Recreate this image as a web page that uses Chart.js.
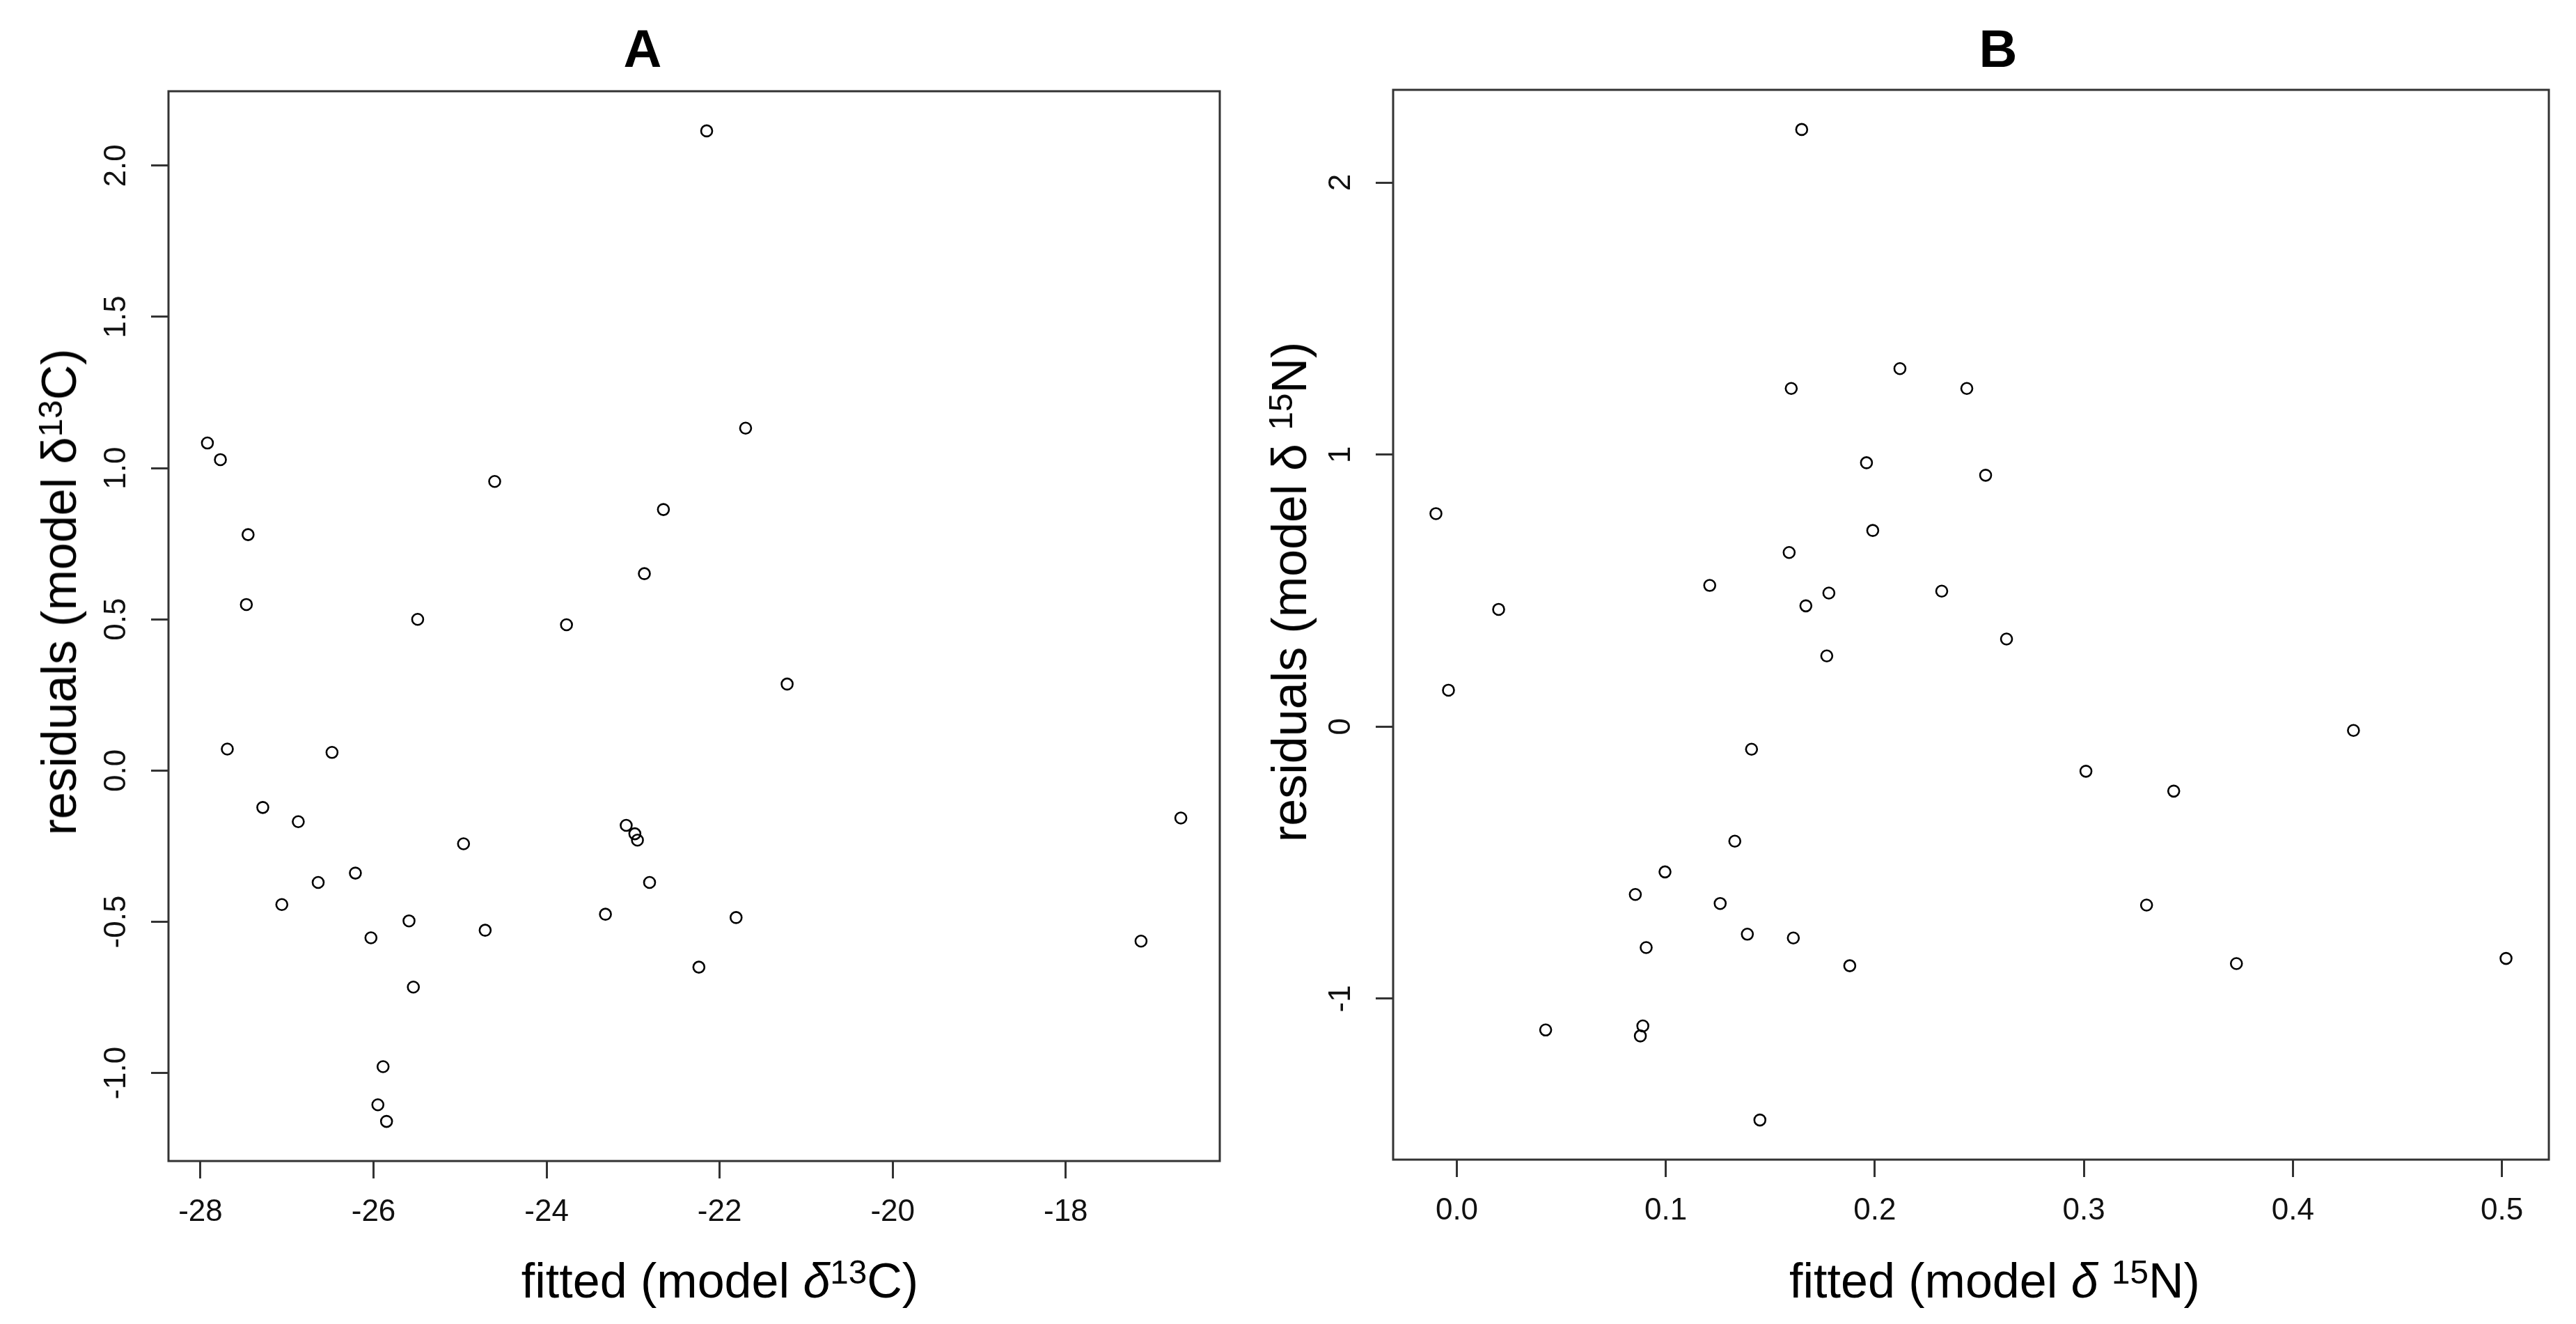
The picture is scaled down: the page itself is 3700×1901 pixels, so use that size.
<!DOCTYPE html>
<html>
<head>
<meta charset="utf-8">
<script src="https://cdn.jsdelivr.net/npm/chart.js@4.4.1/dist/chart.umd.min.js"></script>
<style>
    html, body { margin: 0; padding: 0; background: #fff; }
    #page { position: relative; width: 3700px; height: 1901px; overflow: hidden; background: #fff; }
    canvas { position: absolute; top: 0; }
    .lbl {
        position: absolute;
        font-family: 'Liberation Sans', Arial, sans-serif;
        color: #000;
        white-space: nowrap;
        line-height: 1;
        transform: translate(-50%, -50%);
    }
    .title { font-size: 76px; font-weight: bold; }
    .axt { font-size: 70px; }
    .rot { transform: translate(-50%, -50%) rotate(-90deg); }
    sup { font-size: 0.68em; vertical-align: 0.42em; line-height: 0; }
</style>
</head>
<body>
<div id="page">
    <canvas id="chartA" width="1850" height="1901" style="left:0"></canvas>
    <canvas id="chartB" width="1850" height="1901" style="left:1850px"></canvas>

    <div class="lbl title" style="left:923px; top:70px">A</div>
    <div class="lbl title" style="left:2870px; top:70px">B</div>

    <div class="lbl axt" style="left:1034px; top:1839px">fitted (model <i>δ</i><sup>13</sup>C)</div>
    <div class="lbl axt" style="left:2865px; top:1839px">fitted (model <i>δ</i> <sup>15</sup>N)</div>

    <div class="lbl axt rot" style="left:85px; top:850px">residuals (model δ<sup>13</sup>C)</div>
    <div class="lbl axt rot" style="left:1852px; top:850px">residuals (model δ <sup>15</sup>N)</div>
</div>

<script>
//  Panel A data: fitted vs residuals for d13C model
const fittedA = [-22.15, -21.70, -27.92, -27.77, -24.60, -22.65, -27.45, -22.87, -27.47, -25.49,
                 -23.77, -21.22, -27.69, -26.48, -27.28, -26.87, -16.67, -23.08, -22.98, -22.95,
                 -24.96, -26.21, -26.64, -22.81, -27.06, -23.32, -21.81, -25.59, -24.71, -26.03,
                 -17.13, -22.24, -25.54, -25.89, -25.95, -25.85];
const residA  = [2.115, 1.132, 1.083, 1.028, 0.956, 0.863, 0.780, 0.651, 0.549, 0.500,
                 0.482, 0.286, 0.071, 0.060, -0.122, -0.169, -0.157, -0.181, -0.209, -0.230,
                 -0.242, -0.339, -0.370, -0.370, -0.443, -0.475, -0.486, -0.497, -0.528, -0.553,
                 -0.564, -0.650, -0.716, -0.979, -1.105, -1.160];

//  Panel B data: fitted vs residuals for d15N model
const fittedB = [0.165, 0.212, 0.160, 0.244, 0.196, 0.253, -0.010, 0.199, 0.159, 0.121,
                 0.232, 0.178, 0.167, 0.020, 0.263, 0.177, -0.004, 0.429, 0.141, 0.301,
                 0.343, 0.133, 0.0996, 0.0854, 0.126, 0.330, 0.139, 0.161, 0.0906, 0.502,
                 0.373, 0.188, 0.0425, 0.089, 0.0878, 0.145];
const residB  = [2.195, 1.316, 1.243, 1.243, 0.970, 0.924, 0.783, 0.721, 0.640, 0.519,
                 0.498, 0.491, 0.444, 0.431, 0.322, 0.260, 0.134, -0.014, -0.083, -0.164,
                 -0.237, -0.421, -0.534, -0.617, -0.650, -0.656, -0.763, -0.777, -0.812, -0.852,
                 -0.871, -0.879, -1.115, -1.100, -1.137, -1.446];

//  Tick values
const xTicksA = [-28, -26, -24, -22, -20, -18];
const yTicksA = [-1.0, -0.5, 0.0, 0.5, 1.0, 1.5, 2.0];
const xTicksB = [0.0, 0.1, 0.2, 0.3, 0.4, 0.5];
const yTicksB = [-1, 0, 1, 2];

const FONT = "'Liberation Sans', Arial, sans-serif";
const TICK_SIZE = 44;
const TICK_LEN = 25;
const INK = '#333';

// R style axis limits: data range padded by 4% each side
function rRange(vals) {
    const lo = Math.min(...vals), hi = Math.max(...vals);
    const pad = (hi - lo) * 0.04;
    return [lo - pad, hi + pad];
}

// distance from box edge to centre of the rotated y labels is fixed (like R),
// chart.js puts the centre at tickLength + padding + widest/2, so work back from that
const measureCtx = document.createElement('canvas').getContext('2d');
function yPadding(labels) {
    measureCtx.font = TICK_SIZE + 'px ' + FONT;
    const widest = Math.max(...labels.map(l => measureCtx.measureText(l).width));
    return 74 - TICK_LEN - widest / 2;
}

// the plot box, drawn round the chart area
const boxPlugin = {
    id: 'rbox',
    afterDatasetsDraw(chart) {
        const { ctx, chartArea: a } = chart;
        ctx.save();
        ctx.strokeStyle = INK;
        ctx.lineWidth = 3;
        ctx.strokeRect(a.left, a.top, a.right - a.left, a.bottom - a.top);
        ctx.restore();
    }
};

function makePanel(canvasId, xs, ys, xTicks, yTicks, fmtX, fmtY, area) {
    const [xMin, xMax] = rRange(xs);
    const [yMin, yMax] = rRange(ys);
    const yLabels = yTicks.map(fmtY);

    const axisBase = {
        type: 'linear',
        border: { display: false },
        grid: {
            drawOnChartArea: false,
            drawTicks: true,
            tickLength: TICK_LEN,
            color: INK,
            lineWidth: 3
        }
    };

    return new Chart(document.getElementById(canvasId).getContext('2d'), {
        type: 'scatter',
        data: {
            datasets: [{
                data: xs.map((x, i) => ({ x: x, y: ys[i] })),
                pointStyle: 'circle',
                pointRadius: 8,
                pointHoverRadius: 8,
                borderColor: '#000',
                backgroundColor: 'rgba(0,0,0,0)',
                borderWidth: 2.6
            }]
        },
        options: {
            responsive: false,
            animation: false,
            events: [],
            layout: { padding: { top: area.top, right: area.right, left: 0, bottom: 0 } },
            plugins: {
                legend: { display: false },
                tooltip: { enabled: false },
                title: { display: false }
            },
            scales: {
                x: Object.assign({}, axisBase, {
                    position: 'bottom',
                    min: xMin,
                    max: xMax,
                    afterBuildTicks: s => { s.ticks = xTicks.map(v => ({ value: v })); },
                    afterFit: s => { s.height = area.bottom; },
                    ticks: {
                        autoSkip: false,
                        maxRotation: 0,
                        minRotation: 0,
                        padding: 22,
                        color: '#111',
                        font: { family: FONT, size: TICK_SIZE },
                        callback: v => fmtX(v)
                    }
                }),
                y: Object.assign({}, axisBase, {
                    position: 'left',
                    min: yMin,
                    max: yMax,
                    afterBuildTicks: s => { s.ticks = yTicks.map(v => ({ value: v })); },
                    afterFit: s => { s.width = area.left; },
                    ticks: {
                        autoSkip: false,
                        minRotation: 90,
                        maxRotation: 90,
                        crossAlign: 'center',
                        padding: yPadding(yLabels),
                        color: '#111',
                        font: { family: FONT, size: TICK_SIZE },
                        callback: v => fmtY(v)
                    }
                })
            }
        },
        plugins: [boxPlugin]
    });
}

// Panel A: box at x 242..1752, y 131..1667 of the page
makePanel('chartA', fittedA, residA, xTicksA, yTicksA,
    v => String(Math.round(v)),
    v => v.toFixed(1),
    { left: 242, right: 1850 - 1752, top: 131, bottom: 1901 - 1667 });

// Panel B: box at x 2001..3661, y 129..1665 (canvas starts at 1850)
makePanel('chartB', fittedB, residB, xTicksB, yTicksB,
    v => v.toFixed(1),
    v => String(Math.round(v)),
    { left: 2001 - 1850, right: 3700 - 3661, top: 129, bottom: 1901 - 1665 });
</script>
</body>
</html>
